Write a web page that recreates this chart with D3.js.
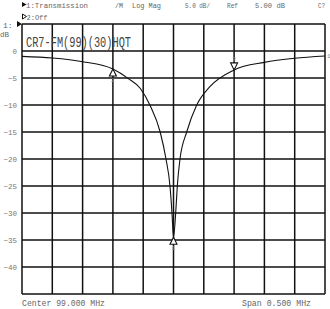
<!DOCTYPE html>
<html>
<head>
<meta charset="utf-8">
<script src="https://cdn.jsdelivr.net/npm/d3@7"></script>
<style>
  body { margin: 0; background: #fff; }
  text { font-family: "Liberation Mono", "DejaVu Sans Mono", monospace; fill: #666; }
</style>
</head>
<body>
<div id="chart"></div>
<script>
// trace 1 (MHz, dB)
const freqs = [98.75, 98.80, 98.85, 98.90, 98.925, 98.945, 98.961, 98.978, 98.9876, 98.9942, 98.9975, 99.0,
               99.0036, 99.0063, 99.0107, 99.0218, 99.0383, 99.060, 99.10, 99.15, 99.20, 99.25];
const trace = [-1.0, -1.3, -1.98, -3.33, -5.06, -6.9, -10, -15, -20, -25, -30, -34.5,
               -30, -25, -20, -15, -10, -6.6, -3.5, -2.1, -1.35, -0.93];

// markers
const markerNames = ["1", "2", "3"];
const markerFreqs = [99.0, 98.9, 99.1];
const markerDb = [-34.5, -3.33, -3.5];
const markerDir = ["up", "up", "down"];

const yTicks = [0, -5, -10, -15, -20, -25, -30, -35, -40];
const xDivs = d3.range(0, 11);

const width = 330, height = 309;
const margin = {top: 24, right: 5, bottom: 15, left: 22};

const svg = d3.select("#chart").append("svg")
  .attr("width", width).attr("height", height);

const x = d3.scaleLinear()
  .domain([98.75, 99.25])
  .range([margin.left, width - margin.right]);

const y = d3.scaleLinear()
  .domain([5, -45])
  .range([margin.top, height - margin.bottom]);

// header lines
function hdr(tx, ty, len, str) {
  svg.append("text").attr("x", tx).attr("y", ty).style("font-size", "8px")
    .attr("textLength", len).attr("lengthAdjust", "spacingAndGlyphs").text(str);
}
svg.append("path")
  .attr("d", "M22,2 L26.5,4.5 L22,7 Z")
  .attr("fill", "#111");
hdr(26, 8, 62, "1:Transmission");
hdr(115, 8, 8, "/M");
hdr(132, 8, 29, "Log Mag");
hdr(185, 8, 25, "5.0 dB/");
hdr(227, 8, 11, "Ref");
hdr(255, 8, 30, "5.00 dB");
hdr(318, 8, 7, "C?");

svg.append("path")
  .attr("d", "M22.5,14 L26.5,16.5 L22.5,19 Z")
  .attr("fill", "none").attr("stroke", "#111").attr("stroke-width", 1);
hdr(26.5, 19.5, 21, "2:Off");

// reference marker + unit
svg.append("text").attr("x", 3).attr("y", 28).style("font-size", "8px").text("1:");
svg.append("path")
  .attr("d", "M17,21 L22,24 L17,27 Z")
  .attr("fill", "#111");
svg.append("text").attr("x", 0).attr("y", 37).style("font-size", "7.5px").text("dB");

// grid
svg.append("g")
  .selectAll("line")
  .data(xDivs)
  .join("line")
    .attr("x1", i => x(98.75 + i * 0.05))
    .attr("x2", i => x(98.75 + i * 0.05))
    .attr("y1", y(5)).attr("y2", y(-45))
    .attr("stroke", "#111").attr("stroke-width", 1.5);

svg.append("g")
  .selectAll("line")
  .data(d3.range(5, -46, -5))
  .join("line")
    .attr("y1", d => y(d)).attr("y2", d => y(d))
    .attr("x1", x(98.75)).attr("x2", x(99.25))
    .attr("stroke", "#111").attr("stroke-width", 1.5);

// y axis labels
const yAxis = g => g
  .attr("transform", `translate(${margin.left},0)`)
  .call(d3.axisLeft(y).tickValues(yTicks).tickSize(0).tickPadding(5))
  .call(g => g.select(".domain").remove())
  .call(g => g.selectAll("text")
      .style("font-family", "'Liberation Mono', monospace")
      .style("font-size", "7.5px")
      .style("fill", "#777"));
svg.append("g").call(yAxis);

// title inside plot
svg.append("text")
  .attr("x", 26).attr("y", 47)
  .style("font-size", "14px")
  .style("fill", "#444")
  .attr("textLength", 105).attr("lengthAdjust", "spacingAndGlyphs")
  .text("CR7-FM(99)(30)HQT");

// trace
const data = freqs.map((f, i) => ({f: f, v: trace[i]}));
const line = d3.line()
  .x(d => x(d.f))
  .y(d => y(d.v))
  .curve(d3.curveMonotoneX);

svg.append("path")
  .datum(data)
  .attr("fill", "none")
  .attr("stroke", "#111")
  .attr("stroke-width", 1.1)
  .attr("d", line);

// trace end label
svg.append("text")
  .attr("x", x(99.25) + 2).attr("y", y(trace[trace.length - 1]) + 2)
  .style("font-size", "6px").style("fill", "#888")
  .text("1");

// markers
const mk = svg.append("g");
markerNames.forEach((name, i) => {
  const mx = x(markerFreqs[i]), my = y(markerDb[i]);
  const s = markerDir[i] === "up" ? 1 : -1;
  mk.append("path")
    .attr("d", `M${mx},${my} L${mx - 3.5},${my + s * 7} L${mx + 3.5},${my + s * 7} Z`)
    .attr("fill", "#fff")
    .attr("stroke", "#111")
    .attr("stroke-width", 1.1);
  mk.append("text")
    .attr("x", mx).attr("y", s > 0 ? my + 13 : my - 9)
    .attr("text-anchor", "middle")
    .style("font-size", "6px").style("fill", "#888")
    .text(name);
});

// footer
svg.append("text").attr("x", 22).attr("y", 306).style("font-size", "8.2px")
  .attr("textLength", 83).attr("lengthAdjust", "spacingAndGlyphs").text("Center 99.000 MHz");
svg.append("text").attr("x", 242).attr("y", 306).style("font-size", "8.2px")
  .attr("textLength", 69).attr("lengthAdjust", "spacingAndGlyphs").text("Span 0.500 MHz");
</script>
</body>
</html>
